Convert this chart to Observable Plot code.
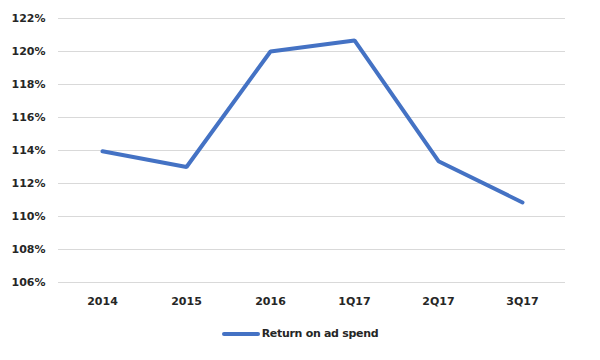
<!DOCTYPE html>
<html>
<head>
<meta charset="utf-8">
<script src="https://cdn.jsdelivr.net/npm/d3@7"></script>
<script src="https://cdn.jsdelivr.net/npm/@observablehq/plot@0.6"></script>
<style>
  body { margin: 0; background: #fff; width: 600px; height: 360px; overflow: hidden; position: relative; font-family: "DejaVu Sans", sans-serif; }
  #legend { position: absolute; left: 0; top: 327px; width: 600px; display: flex; justify-content: center; align-items: center; font-size: 11px; color: #262626; font-weight: bold; letter-spacing: -0.3px; }
  #legend svg { margin-right: 2px; }
</style>
</head>
<body>
<div id="chart"></div>
<div id="legend"></div>
<script>
const periods = ["2014", "2015", "2016", "1Q17", "2Q17", "3Q17"];
const returnOnAdSpend = [1.1395, 1.130, 1.200, 1.2067, 1.1335, 1.1085];
const yTicks = [1.06, 1.08, 1.10, 1.12, 1.14, 1.16, 1.18, 1.20, 1.22];
const seriesName = "Return on ad spend";

const data = periods.map((p, i) => ({period: p, value: returnOnAdSpend[i]}));

const chart = Plot.plot({
  width: 600,
  height: 320,
  marginLeft: 58,
  marginRight: 35,
  marginTop: 18,
  marginBottom: 38,
  style: {fontFamily: "DejaVu Sans, sans-serif", fontSize: "11px", fontWeight: "bold", color: "#262626", background: "#fff"},
  x: {type: "point", domain: periods, padding: 0.5, label: null, tickSize: 0, tickPadding: 15},
  y: {domain: [1.06, 1.22], ticks: yTicks, tickFormat: d => Math.round(d * 100) + "%", label: null, tickSize: 0, tickPadding: 13},
  marks: [
    Plot.ruleY(yTicks, {stroke: "#d9d9d9", strokeWidth: 1}),
    Plot.line(data, {x: "period", y: "value", stroke: "#4472c4", strokeWidth: 4, strokeLinejoin: "miter", strokeLinecap: "round"})
  ]
});
document.getElementById("chart").appendChild(chart);

document.getElementById("legend").innerHTML =
  `<svg width="38" height="8"><line x1="2" y1="4" x2="36" y2="4" stroke="#4472c4" stroke-width="4" stroke-linecap="round"/></svg><span>${seriesName}</span>`;
</script>
</body>
</html>
